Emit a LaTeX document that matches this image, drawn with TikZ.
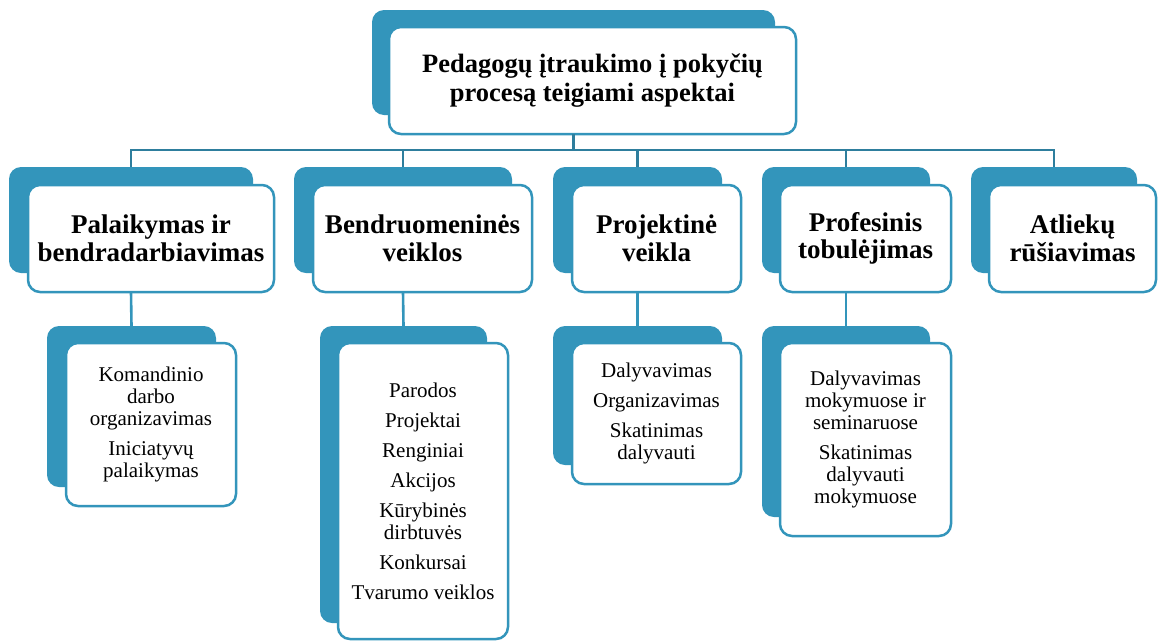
\documentclass[tikz,border=0pt]{standalone}
\usepackage{fontspec}
\setmainfont{Liberation Serif}
\definecolor{teal1}{HTML}{3395BB}
\definecolor{tealdark}{HTML}{2E7E9D}
\begin{document}
\begin{tikzpicture}[x=1pt,y=-1pt,
  backbox/.style={fill=teal1,rounded corners=12pt,inner sep=0pt,outer sep=0pt},
  frontbox/.style={draw=teal1,line width=2.5pt,fill=white,rounded corners=12pt,inner sep=2pt,outer sep=0pt,align=center},
  titletxt/.style={font=\fontsize{26.5}{29}\selectfont\bfseries},
  headtxt/.style={font=\fontsize{27}{27.5}\selectfont\bfseries},
  subtxt/.style={font=\fontsize{21}{22}\selectfont},
  busline/.style={draw=tealdark,line width=2.6pt},
  subline/.style={draw=teal1,line width=2.6pt}]
\useasboundingbox (0,0) rectangle (1159,643);
% title
\node[backbox,minimum width=403pt,minimum height=105pt] (tb) at (573.5,62.5) {};
\node[frontbox,titletxt,minimum width=407pt,minimum height=107pt] (tf) at (592.5,80.5) {Pedagogų įtraukimo į pokyčių\\procesą teigiami aspektai};
% level 1 backs
\node[backbox,minimum width=244pt,minimum height=106pt] (ab) at (131,220) {};
\node[backbox,minimum width=218pt,minimum height=106pt] (bb) at (403,220) {};
\node[backbox,minimum width=169pt,minimum height=106pt] (cb) at (637.5,220) {};
\node[backbox,minimum width=168pt,minimum height=106pt] (db) at (846,220) {};
\node[backbox,minimum width=166pt,minimum height=106pt] (eb) at (1054,220) {};
% level 1 fronts
\node[frontbox,headtxt,minimum width=246pt,minimum height=107pt] (af) at (151,238.5) {Palaikymas ir\\bendradarbiavimas};
\node[frontbox,headtxt,minimum width=219pt,minimum height=107pt] (bf) at (422.5,238.5) {Bendruomeninės\\veiklos};
\node[frontbox,headtxt,minimum width=169pt,minimum height=107pt] (cf) at (656.5,238.5) {Projektinė\\veikla};
\node[frontbox,headtxt,minimum width=171pt,minimum height=107pt] (df) at (865.5,238.5) {Profesinis\\tobulėjimas};
\node[frontbox,headtxt,minimum width=167pt,minimum height=107pt] (ef) at (1072.5,238.5) {Atliekų\\rūšiavimas};
% level 2 backs
\node[backbox,minimum width=169pt,minimum height=161pt] (a2b) at (131.5,406.5) {};
\node[backbox,minimum width=167pt,minimum height=297pt] (b2b) at (403.5,474.5) {};
\node[backbox,minimum width=169pt,minimum height=139pt] (c2b) at (637.5,395.5) {};
\node[backbox,minimum width=168pt,minimum height=191pt] (d2b) at (846,421.5) {};
% level 2 fronts
\node[frontbox,subtxt,minimum width=170pt,minimum height=163pt] (a2f) at (151,424.5) {Komandinio\\darbo\\organizavimas\\[8pt]Iniciatyvų\\palaikymas};
\node[frontbox,subtxt,minimum width=170pt,minimum height=296pt] (b2f) at (423,491) {Parodos\\[8pt]Projektai\\[8pt]Renginiai\\[8pt]Akcijos\\[8pt]Kūrybinės\\dirbtuvės\\[8pt]Konkursai\\[8pt]Tvarumo veiklos};
\node[frontbox,subtxt,minimum width=169pt,minimum height=141pt] (c2f) at (656.5,413.5) {Dalyvavimas\\[8pt]Organizavimas\\[8pt]Skatinimas\\dalyvauti};
\node[frontbox,subtxt,minimum width=171pt,minimum height=193pt] (d2f) at (865.5,439.5) {Dalyvavimas\\mokymuose ir\\seminaruose\\[8pt]Skatinimas\\dalyvauti\\mokymuose};
% bus connectors
\coordinate (busL) at (131,150);
\coordinate (busR) at (1054,150);
\draw[busline] (tb |- tf.south) -- (tb |- busL);
\draw[busline] (ab.north) -- (ab |- busL) -- (eb |- busR) -- (eb.north);
\draw[busline] (bb |- busL) -- (bb.north);
\draw[busline] (cb |- busL) -- (cb.north);
\draw[busline] (db |- busL) -- (db.north);
% level 2 connectors
\draw[subline] (ab |- af.south) -- (a2b.north);
\draw[subline] (bb |- bf.south) -- (b2b.north);
\draw[subline] (cb |- cf.south) -- (c2b.north);
\draw[subline] (db |- df.south) -- (d2b.north);
\end{tikzpicture}
\end{document}
